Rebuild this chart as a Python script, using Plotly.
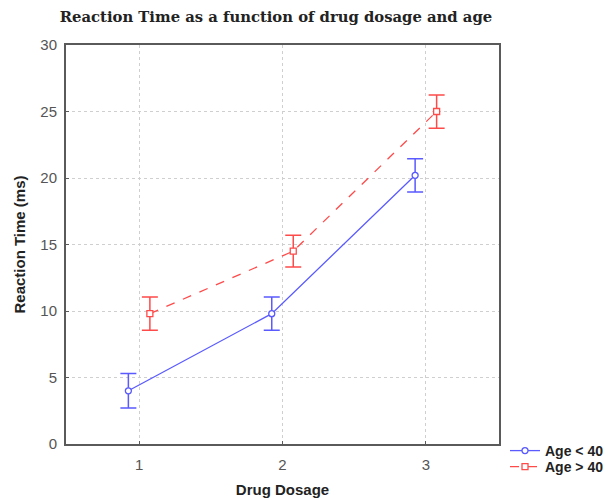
import plotly.graph_objects as go

dosage = [1, 2, 3]
young_rt = [4.0, 9.8, 20.2]
young_err = [1.3, 1.25, 1.25]
old_rt = [9.8, 14.5, 25.0]
old_err = [1.25, 1.2, 1.25]
series_names = ["<b>Age &lt; 40</b>", "<b>Age &gt; 40</b>"]

offset = 0.075
blue = "#5a5aff"
red = "#ff4a4a"

fig = go.Figure()
fig.add_trace(go.Scatter(
    x=[d - offset for d in dosage], y=young_rt, name=series_names[0],
    mode="lines+markers", legend="legend",
    line=dict(color=blue, width=1.3),
    marker=dict(symbol="circle", size=6, color="white", line=dict(color=blue, width=1.3)),
    error_y=dict(type="data", array=young_err, visible=True, color=blue, thickness=1.5, width=8),
))
fig.add_trace(go.Scatter(
    x=[d + offset for d in dosage], y=old_rt, name=series_names[1],
    mode="lines+markers", legend="legend2",
    line=dict(color=red, width=1.3, dash="dash"),
    marker=dict(symbol="square", size=6, color="white", line=dict(color=red, width=1.3)),
    error_y=dict(type="data", array=old_err, visible=True, color=red, thickness=1.5, width=8),
))

axis_common = dict(
    showline=True, linecolor="#5a5a5a", linewidth=2, mirror=True,
    showgrid=True, gridcolor="#cfcfcf", griddash="dot", gridwidth=1,
    zeroline=False, ticks="inside", ticklen=3, tickcolor="#5a5a5a",
    tickfont=dict(family="Liberation Sans, Arial", size=15, color="#555555"),
    automargin=False,
)

label_font = dict(family="Liberation Sans, Arial", size=15, color="#222222")
legend_common = dict(xref="container", yref="container", xanchor="left", yanchor="top",
                     bgcolor="rgba(0,0,0,0)", itemwidth=30,
                     font=dict(family="Liberation Sans, Arial", size=14, color="#222222"))

fig.update_layout(
    width=614, height=500,
    margin=dict(l=66, r=115, t=45, b=56),
    paper_bgcolor="white", plot_bgcolor="white",
    title=dict(text="<b>Reaction Time as a function of drug dosage and age</b>",
               font=dict(family="DejaVu Serif, serif", size=14.8, color="#222222"),
               x=276/614, xanchor="center", y=1 - 17/500, yanchor="middle"),
    xaxis=dict(range=[0.49, 3.51], tickvals=dosage, ticktext=["1", "2", "3"],
               ticklabelstandoff=6,
               title=dict(text="<b>Drug Dosage</b>", standoff=12, font=label_font),
               **axis_common),
    yaxis=dict(range=[0, 30], dtick=5, ticklabelstandoff=4,
               title=dict(text="<b>Reaction Time (ms)</b>", standoff=11, font=label_font),
               **axis_common),
    legend=dict(x=505/614, y=1 - 435/500, **legend_common),
    legend2=dict(x=505/614, y=1 - 451/500, **legend_common),
    showlegend=True,
)

fig.write_html("out.html", config={"displayModeBar": False},
               post_script="document.body.style.margin='0';document.body.style.overflow='hidden';")
